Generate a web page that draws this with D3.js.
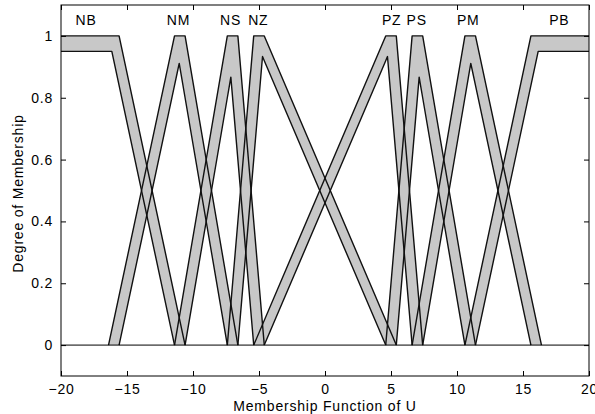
<!DOCTYPE html>
<html>
<head>
<meta charset="utf-8">
<script src="https://cdn.jsdelivr.net/npm/d3@7"></script>
<style>
  body { margin: 0; background: #fff; }
  text { font-family: "Liberation Sans", Arial, sans-serif; font-size: 14px; letter-spacing: 0.8px; fill: #000; }
</style>
</head>
<body>
<svg id="chart"></svg>
<script>
// membership function names and nominal breakpoints (left foot, left top, right top, right foot)
const mfNames  = ["NB", "NM", "NS", "NZ", "PZ", "PS", "PM", "PB"];
const leftFoot = [-25, -16, -11, -7, -5, 5, 7, 11];
const leftTop  = [-25, -11, -7, -5, 5, 7, 11, 16];
const rightTop = [-16, -11, -7, -5, 5, 7, 11, 25];
const rightFoot= [-11, -7, -5, 5, 7, 11, 16, 25];
const spread = 0.4;        // uncertainty of the breakpoints
const lowerMax = 0.95;     // height limit of the lower MF
const labelX = [-18.1, -11.1, -7.15, -5.05, 5.05, 6.95, 10.85, 17.75];
const labelY = 1.034;
const xTicks = [-20, -15, -10, -5, 0, 5, 10, 15, 20];
const yTicks = [0, 0.2, 0.4, 0.6, 0.8, 1];

const width = 595, height = 414;
const plotLeft = 61, plotRight = 589, plotTop = 5, plotBottom = 376;

const svg = d3.select("#chart").attr("width", width).attr("height", height);

let x = d3.scaleLinear().domain([-20, 20]).range([plotLeft, plotRight]);
let y = d3.scaleLinear().domain([-0.1, 1.1]).range([plotBottom, plotTop]);

svg.append("defs").append("clipPath").attr("id", "plot")
    .append("rect")
    .attr("x", plotLeft).attr("y", plotTop)
    .attr("width", plotRight - plotLeft).attr("height", plotBottom - plotTop);

function upperPoints(i) {
    return [
        [leftFoot[i] - spread, 0],
        [leftTop[i] - spread, 1],
        [rightTop[i] + spread, 1],
        [rightFoot[i] + spread, 0]
    ];
}

function lowerPoints(i) {
    const a = leftFoot[i] + spread, b = leftTop[i] + spread;
    const c = rightTop[i] - spread, e = rightFoot[i] - spread;
    // shoulders have no rising / falling side
    const L = v => b > a ? (v - a) / (b - a) : 1;
    const R = v => e > c ? (e - v) / (e - c) : 1;
    const f = v => Math.max(0, Math.min(L(v), R(v), 1, lowerMax));
    // candidate corners of the piecewise linear lower MF
    let xs = [a, b, c, e, a + lowerMax * (b - a), e - lowerMax * (e - c)];
    if (b > a && e > c) {
        const sl = 1 / (b - a), sr = 1 / (e - c);
        xs.push((e * sr + a * sl) / (sl + sr));
    }
    xs = xs.filter(v => v >= a && v <= e).sort((p, q) => p - q);
    return xs.map(v => [v, f(v)]);
}

let line = d3.line().x(d => x(d[0])).y(d => y(d[1]));

let shapes = mfNames.map((n, i) => ({ up: upperPoints(i), low: lowerPoints(i) }));

let g = svg.append("g").attr("clip-path", "url(#plot)");

g.append("g")
    .selectAll("path")
    .data(shapes)
    .enter()
    .append("path")
    .attr("d", d => line(d.up.concat(d.low.slice().reverse())) + "Z")
    .attr("fill", "#c8c8c8")
    .attr("stroke", "none");

let outlines = g.append("g")
    .attr("fill", "none")
    .attr("stroke", "#111")
    .attr("stroke-width", 1.4)
    .attr("stroke-linejoin", "round");
outlines.selectAll("path.up").data(shapes).enter().append("path")
    .attr("class", "up")
    .attr("d", d => line(d.up));
outlines.selectAll("path.low").data(shapes).enter().append("path")
    .attr("class", "low")
    .attr("d", d => line(d.low));

// zero line
svg.append("line")
    .attr("x1", plotLeft).attr("x2", plotRight)
    .attr("y1", y(0)).attr("y2", y(0))
    .attr("stroke", "#000").attr("stroke-width", 1);

// axes, ticks pointing inward
function styleAxis(sel) {
    sel.select(".domain").remove();
    sel.selectAll(".tick line").attr("stroke", "#000");
    sel.attr("font-family", null).attr("font-size", null);
}

svg.append("g")
    .attr("transform", `translate(0,${plotBottom})`)
    .call(d3.axisBottom(x).tickValues(xTicks).tickSizeInner(-5).tickSizeOuter(0).tickPadding(8))
    .call(styleAxis);
svg.append("g")
    .attr("transform", `translate(0,${plotTop})`)
    .call(d3.axisTop(x).tickValues(xTicks).tickSizeInner(-5).tickSizeOuter(0).tickFormat(""))
    .call(styleAxis);
svg.append("g")
    .attr("transform", `translate(${plotLeft},0)`)
    .call(d3.axisLeft(y).tickValues(yTicks).tickSizeInner(-5).tickSizeOuter(0).tickPadding(8)
        .tickFormat(d3.format("~g")))
    .call(styleAxis);
svg.append("g")
    .attr("transform", `translate(${plotRight},0)`)
    .call(d3.axisRight(y).tickValues(yTicks).tickSizeInner(-5).tickSizeOuter(0).tickFormat(""))
    .call(styleAxis);

svg.append("rect")
    .attr("x", plotLeft).attr("y", plotTop)
    .attr("width", plotRight - plotLeft).attr("height", plotBottom - plotTop)
    .attr("fill", "none").attr("stroke", "#000").attr("stroke-width", 1);

// MF labels
svg.append("g")
    .selectAll("text")
    .data(mfNames)
    .enter()
    .append("text")
    .attr("x", (d, i) => x(labelX[i]))
    .attr("y", y(labelY))
    .attr("text-anchor", "middle")
    .text(d => d);

// axis titles
svg.append("text")
    .attr("x", (plotLeft + plotRight) / 2)
    .attr("y", 411)
    .attr("text-anchor", "middle")
    .text("Membership Function of U");

svg.append("text")
    .attr("transform", `translate(23,${(plotTop + plotBottom) / 2 + 3}) rotate(-90)`)
    .attr("text-anchor", "middle")
    .text("Degree of Membership");
</script>
</body>
</html>
